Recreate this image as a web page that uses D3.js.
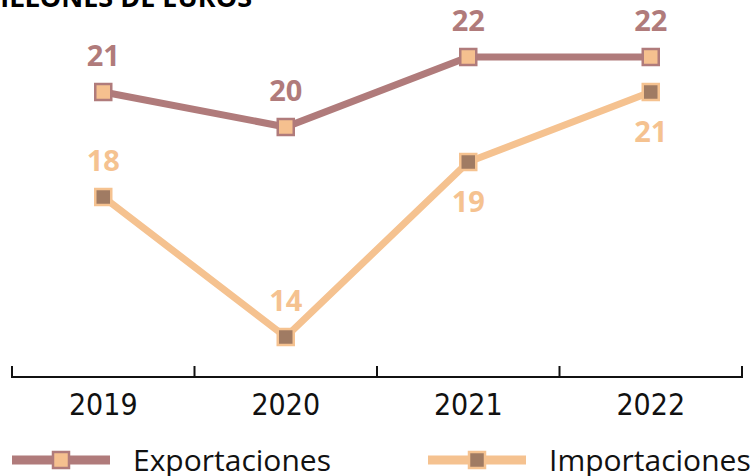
<!DOCTYPE html>
<html>
<head>
<meta charset="utf-8">
<script src="https://cdn.jsdelivr.net/npm/d3@7"></script>
<style>
  body { margin: 0; background: #fff; }
  svg { display: block; }
</style>
</head>
<body>
<div id="chart"></div>
<script>
// Data
const years = ["2019", "2020", "2021", "2022"];
const exportaciones = [21, 20, 22, 22];
const importaciones = [18, 14, 19, 21];
const seriesNames = ["Exportaciones", "Importaciones"];
const title = "MILLONES DE EUROS";

const width = 753, height = 476;

const svg = d3.select("#chart")
    .append("svg")
    .attr("width", width)
    .attr("height", height);

// Title, clipped at the top edge like the original
svg.append("text")
    .attr("x", 252)
    .attr("y", 7)
    .attr("text-anchor", "end")
    .style("font-family", "'Open Sans', sans-serif")
    .style("font-weight", "bold")
    .style("font-size", "27px")
    .text(title);

// Scales
let x = d3.scaleBand()
    .domain(years)
    .range([12, 742]);

let y = d3.scaleLinear()
    .domain([12, 22])
    .range([407, 57]);

const axisY = 377;

// X axis, ticks pointing up at the band edges
let xAxis = svg.append("g")
    .attr("transform", `translate(0, ${axisY})`);

xAxis.append("line")
    .attr("x1", 12).attr("x2", 742)
    .attr("stroke", "#111").attr("stroke-width", 2);

let edges = years.map(d => x(d)).concat([x.range()[1]]);
xAxis.selectAll("line.tick")
    .data(edges)
    .enter().append("line")
    .attr("class", "tick")
    .attr("x1", d => d).attr("x2", d => d)
    .attr("y1", 1).attr("y2", -11)
    .attr("stroke", "#111").attr("stroke-width", 2);

xAxis.selectAll("text")
    .data(years)
    .enter().append("text")
    .attr("x", d => x(d) + x.bandwidth() / 2)
    .attr("y", 38)
    .attr("text-anchor", "middle")
    .style("font-family", "'Liberation Sans Narrow', 'DejaVu Sans Condensed', sans-serif")
    .style("font-size", "30px")
    .style("fill", "#111")
    .text(d => d);

// Series styling
const series = [
    { name: seriesNames[0], values: exportaciones, line: "#b07b7b", fill: "#f5c08f", stroke: "#b07b7b", labelColor: "#b07b7b", below: [false, false, false, false] },
    { name: seriesNames[1], values: importaciones, line: "#f5c290", fill: "#a07b63", stroke: "#f5c290", labelColor: "#f5c290", below: [false, false, true, true] }
];

let line = d3.line()
    .x((d, i) => x(years[i]) + x.bandwidth() / 2)
    .y(d => y(d));

// Draw importaciones first so exportaciones sits on top
series.slice().reverse().forEach(s => {
    let g = svg.append("g");

    g.append("path")
        .datum(s.values)
        .attr("d", line)
        .attr("fill", "none")
        .attr("stroke", s.line)
        .attr("stroke-width", 7);

    g.selectAll("rect")
        .data(s.values)
        .enter().append("rect")
        .attr("x", (d, i) => x(years[i]) + x.bandwidth() / 2 - 8)
        .attr("y", d => y(d) - 8)
        .attr("width", 16)
        .attr("height", 16)
        .attr("fill", s.fill)
        .attr("stroke", s.stroke)
        .attr("stroke-width", 2.5);

    g.selectAll("text")
        .data(s.values)
        .enter().append("text")
        .attr("x", (d, i) => x(years[i]) + x.bandwidth() / 2)
        .attr("y", (d, i) => s.below[i] ? y(d) + 50 : y(d) - 26)
        .attr("text-anchor", "middle")
        .style("font-family", "'Open Sans', sans-serif")
        .style("font-weight", "bold")
        .style("font-size", "29px")
        .style("fill", s.labelColor)
        .text(d => d);
});

// Legend
let legend = svg.append("g")
    .attr("transform", "translate(0, 460)");

const legendX = [12, 428];

series.forEach((s, i) => {
    let lg = legend.append("g")
        .attr("transform", `translate(${legendX[i]}, 0)`);

    lg.append("line")
        .attr("x1", 0).attr("x2", 98)
        .attr("stroke", s.line)
        .attr("stroke-width", 9);

    lg.append("rect")
        .attr("x", 41).attr("y", -8)
        .attr("width", 16).attr("height", 16)
        .attr("fill", s.fill)
        .attr("stroke", s.stroke)
        .attr("stroke-width", 2.5);

    lg.append("text")
        .attr("x", 121)
        .attr("y", 11)
        .style("font-family", "'Open Sans', sans-serif")
        .style("font-size", "30px")
        .style("fill", "#111")
        .text(s.name);
});
</script>
</body>
</html>
